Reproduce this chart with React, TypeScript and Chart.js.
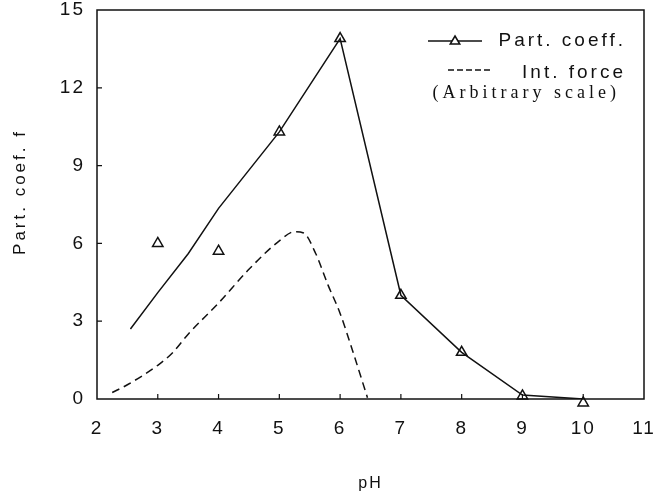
import React, { useEffect, useRef } from 'react';
import { Chart, registerables } from 'chart.js';
Chart.register(...registerables);

// Data
const partLineX = [2.55, 3, 3.5, 4, 5, 6, 7, 8, 9, 10];
const partLineY = [2.7, 4.1, 5.6, 7.35, 10.3, 13.9, 4.0, 1.8, 0.15, 0.0];
const measuredX = [3, 4, 5, 6, 7, 8, 9, 10];
const measuredY = [6.0, 5.7, 10.3, 13.9, 4.0, 1.8, 0.12, -0.15];
const forceX = [2.25, 2.5, 3, 3.25, 3.5, 4, 4.5, 5, 5.25, 5.4, 5.6, 5.8, 6, 6.2, 6.45];
const forceY = [0.25, 0.55, 1.3, 1.8, 2.5, 3.7, 5.0, 6.1, 6.45, 6.4, 5.6, 4.4, 3.3, 1.9, 0.05];
const xTickValues = [3, 4, 5, 6, 7, 8, 9, 10];
const yTickValues = [3, 6, 9, 12];
const legendLabels = ['Part. coeff.', 'Int. force'];
const legendNote = '(Arbitrary scale)';
const xTitle = 'pH';
const yTitle = 'Part. coef. f';

const INK = '#111111';
const SANS = "'Liberation Sans', Arial, sans-serif";

const spacingPlugin = {
  id: 'spacing',
  afterInit(chart: any) { chart.ctx.letterSpacing = '2px'; },
  beforeUpdate(chart: any) { chart.ctx.letterSpacing = '2px'; },
  beforeDraw(chart: any) { chart.ctx.letterSpacing = '2px'; },
};

const decorPlugin = {
  id: 'decor',
  afterDraw(chart: any) {
    const { ctx, chartArea: a, scales } = chart;
    ctx.save();
    ctx.strokeStyle = INK;
    ctx.lineWidth = 1.5;
    ctx.strokeRect(a.left, a.top, a.right - a.left, a.bottom - a.top);
    // inward ticks
    ctx.lineWidth = 1.2;
    ctx.beginPath();
    xTickValues.forEach((v) => {
      const px = scales.x.getPixelForValue(v);
      ctx.moveTo(px, a.bottom);
      ctx.lineTo(px, a.bottom - 5);
    });
    yTickValues.forEach((v) => {
      const py = scales.y.getPixelForValue(v);
      ctx.moveTo(a.left, py);
      ctx.lineTo(a.left + 5, py);
    });
    ctx.stroke();

    // y title
    ctx.save();
    ctx.translate(20, 192);
    ctx.rotate(-Math.PI / 2);
    ctx.font = `17px ${SANS}`;
    ctx.letterSpacing = '3px';
    ctx.fillStyle = INK;
    ctx.textAlign = 'center';
    ctx.textBaseline = 'middle';
    ctx.fillText(yTitle, 0, 0);
    ctx.restore();

    // legend
    const R = a.right - 21;
    ctx.fillStyle = INK;
    ctx.font = `19px ${SANS}`;
    ctx.letterSpacing = '3px';
    ctx.textAlign = 'right';
    ctx.textBaseline = 'middle';
    ctx.fillText(legendLabels[0], R + 3, a.top + 31);
    ctx.fillText(legendLabels[1], R + 3, a.top + 63);
    ctx.lineWidth = 1.5;
    ctx.beginPath();
    ctx.moveTo(R - 195, a.top + 31);
    ctx.lineTo(R - 141, a.top + 31);
    ctx.stroke();
    // triangle marker
    const tx = R - 168, ty = a.top + 31, r = 5;
    ctx.beginPath();
    ctx.moveTo(tx, ty - r);
    ctx.lineTo(tx + r * 0.95, ty + r * 0.6);
    ctx.lineTo(tx - r * 0.95, ty + r * 0.6);
    ctx.closePath();
    ctx.fillStyle = '#fff';
    ctx.fill();
    ctx.stroke();
    ctx.setLineDash([6, 3]);
    ctx.beginPath();
    ctx.moveTo(R - 175, a.top + 60);
    ctx.lineTo(R - 131, a.top + 60);
    ctx.stroke();
    ctx.setLineDash([]);
    ctx.fillStyle = INK;
    ctx.font = `18px 'Liberation Serif', 'DejaVu Serif', serif`;
    ctx.letterSpacing = '4px';
    ctx.textAlign = 'right';
    ctx.fillText(legendNote, R - 3, a.top + 83);
    ctx.restore();
  },
};

export default function App() {
  const ref = useRef<HTMLCanvasElement | null>(null);
  useEffect(() => {
    if (!ref.current) return;
    const chart = new Chart(ref.current, {
      type: 'line',
      data: {
        datasets: [
          {
            label: legendLabels[0],
            data: partLineX.map((x, i) => ({ x, y: partLineY[i] })),
            borderColor: INK,
            borderWidth: 1.5,
            pointRadius: 0,
            tension: 0,
          },
          {
            label: 'measured',
            data: measuredX.map((x, i) => ({ x, y: measuredY[i] })),
            showLine: false,
            pointStyle: 'triangle',
            pointRadius: 6,
            pointBorderWidth: 1.5,
            pointBorderColor: INK,
            pointBackgroundColor: '#ffffff',
            clip: false,
          } as any,
          {
            label: legendLabels[1],
            data: forceX.map((x, i) => ({ x, y: forceY[i] })),
            borderColor: INK,
            borderWidth: 1.5,
            borderDash: [8, 5],
            pointRadius: 0,
            cubicInterpolationMode: 'monotone',
          },
        ],
      },
      options: {
        animation: false,
        responsive: true,
        maintainAspectRatio: false,
        layout: { padding: { top: 10, right: 12, left: 0, bottom: 0 } },
        plugins: { legend: { display: false }, tooltip: { enabled: false } },
        scales: {
          x: {
            type: 'linear',
            min: 2,
            max: 11,
            grid: { display: false, drawTicks: false },
            border: { display: false },
            ticks: {
              stepSize: 1,
              color: INK,
              padding: 18,
              font: { family: SANS, size: 19 },
            },
            title: {
              display: true,
              text: xTitle,
              color: INK,
              font: { family: SANS, size: 16 },
              padding: { top: 0, bottom: 1 },
            },
            afterFit: (s: any) => {
              s.height = 95;
              s.paddingLeft = 0;
              s.paddingRight = 0;
              s.paddingTop = 0;
              s.paddingBottom = 0;
            },
          },
          y: {
            min: 0,
            max: 15,
            grid: { display: false, drawTicks: false },
            border: { display: false },
            ticks: {
              stepSize: 3,
              color: INK,
              padding: 12,
              font: { family: SANS, size: 19 },
            },
            afterFit: (s: any) => {
              s.width = 97;
              s.paddingLeft = 0;
              s.paddingRight = 0;
              s.paddingTop = 0;
              s.paddingBottom = 0;
            },
          },
        },
      },
      plugins: [spacingPlugin, decorPlugin],
    });
    return () => chart.destroy();
  }, []);
  return (
    <div style={{ position: 'fixed', left: 0, top: 0, width: 656, height: 494, background: '#fff' }}>
      <canvas ref={ref} />
    </div>
  );
}
